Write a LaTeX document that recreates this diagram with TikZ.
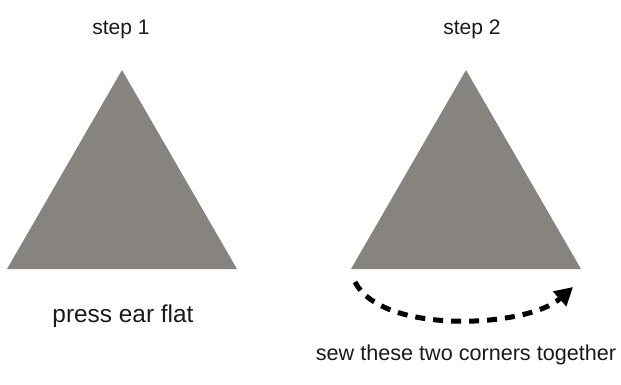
\documentclass[tikz,border=0pt]{standalone}
\usepackage{fontspec}
\setmainfont{Liberation Sans}
\usepackage{tikz}
\usetikzlibrary{arrows.meta,positioning}
\definecolor{earfelt}{HTML}{878480}
\definecolor{ink}{HTML}{1A1A1A}

\begin{document}
\begin{tikzpicture}[x=1pt, y=-1pt,
    hand/.style={font=\fontsize{21}{24}\selectfont, text=ink, inner sep=0pt, anchor=base},
    seam/.style={draw=black, line width=5pt, dash pattern=on 10pt off 8pt, -{Triangle[length=18pt, width=19pt]}}]
    \useasboundingbox (0,0) rectangle (621,385);
    \foreach \i/\cx/\tx/\t in {1/122/121/{step 1}, 2/466/472/{step 2}}
      { \fill[earfelt] (\cx,70) coordinate (apex\i) -- (\cx-115,269) coordinate (left\i)
                       -- (\cx+115,269) coordinate (right\i) -- cycle;
        \node[hand] (title\i) at (\tx,35) {\t}; }
    \node[hand, font=\fontsize{24.4}{26}\selectfont] (presslabel) at (123,322) {press ear flat};
    \node[hand, font=\fontsize{21.6}{24}\selectfont] (sewlabel) at (466,360) {sew these two corners together};
    % stitch line between the two lower corners
    \coordinate (seamfrom) at (355,282);
    \coordinate (seamto) at (573,287);
    \draw[seam] (seamfrom) .. controls (382,335) and (527,328) .. (seamto);
  \end{tikzpicture}
\end{document}
